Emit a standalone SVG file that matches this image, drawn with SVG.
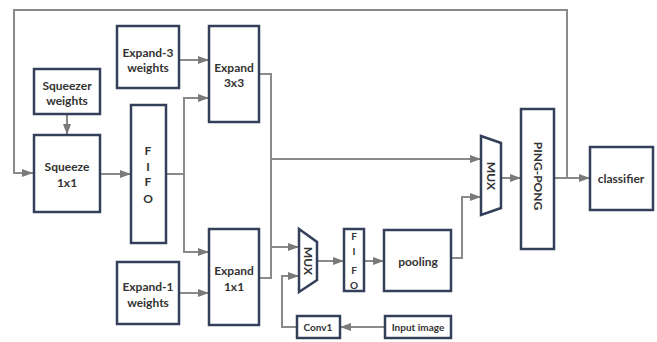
<svg xmlns="http://www.w3.org/2000/svg" width="657" height="342" viewBox="0 0 657 342">
<defs>
<marker id="ah" markerUnits="userSpaceOnUse" markerWidth="12" markerHeight="10" refX="11" refY="5" orient="auto">
<path d="M0,1 L11,5 L0,9 Z" fill="#7a7a7a"/>
</marker>
</defs>
<style>
.box{fill:#fff;stroke:#34405a;stroke-width:2.5}
.ln{fill:none;stroke:#8a8a8a;stroke-width:2}
.ar{marker-end:url(#ah)}
text{font-family:Lato,"Liberation Sans",sans-serif;font-weight:bold;font-size:12px;fill:#333;text-anchor:middle;dominant-baseline:central}
.sm{font-size:10px}
</style>
<rect width="657" height="342" fill="#fff"/>
<g id="connectors">
<path class="ln ar" d="M567,178 V10 H14 V173 H33"/>
<path class="ln ar" d="M67,114 V135"/>
<path class="ln ar" d="M100,174 H131"/>
<path class="ln ar" d="M166,174 H184 V98 H209"/>
<path class="ln ar" d="M184,174 V252 H209"/>
<path class="ln ar" d="M180,60 H209"/>
<path class="ln ar" d="M180,293 H209"/>
<path class="ln" d="M259,74 H271 V278 H259"/>
<path class="ln ar" d="M271,159 H481"/>
<path class="ln ar" d="M271,247 H299"/>
<path class="ln ar" d="M297,327 H282 V276 H299"/>
<path class="ln ar" d="M385,327 H340"/>
<path class="ln ar" d="M317,261 H344"/>
<path class="ln ar" d="M364,261 H384"/>
<path class="ln ar" d="M451,258 H462 V197 H481"/>
<path class="ln ar" d="M501,178 H521"/>
<path class="ln ar" d="M554,178 H590"/>
</g>
<g id="expand3-weights"><rect class="box" x="117" y="26" width="62" height="62"/><text x="148" y="52">Expand-3</text><text x="148" y="67">weights</text></g>
<g id="expand3x3"><rect class="box" x="209" y="26" width="50" height="96"/><text x="234" y="67">Expand</text><text x="234" y="82">3x3</text></g>
<g id="squeezer-weights"><rect class="box" x="34" y="69" width="66" height="45"/><text x="67" y="85">Squeezer</text><text x="67" y="100">weights</text></g>
<g id="squeeze"><rect class="box" x="34" y="135" width="66" height="77"/><text x="67" y="166">Squeeze</text><text x="67" y="182">1x1</text></g>
<g id="fifo1"><rect class="box" x="131" y="105" width="35" height="138"/><text x="148" y="150">F</text><text x="148" y="166">I</text><text x="148" y="181">F</text><text x="148" y="198">O</text></g>
<g id="expand1-weights"><rect class="box" x="117" y="262" width="62" height="62"/><text x="148" y="286">Expand-1</text><text x="148" y="302">weights</text></g>
<g id="expand1x1"><rect class="box" x="209" y="229" width="50" height="96"/><text x="234" y="270">Expand</text><text x="234" y="286">1x1</text></g>
<g id="mux1"><path class="box" d="M299,229 L317,242 L317,280 L299,292 Z"/><text transform="translate(308,261) rotate(90)">MUX</text></g>
<g id="fifo2"><rect class="box" x="344" y="229" width="20" height="62"/><text x="354" y="236" class="sm">F</text><text x="354" y="251" class="sm">I</text><text x="354" y="270" class="sm">F</text><text x="354" y="285" class="sm">O</text></g>
<g id="pooling"><rect class="box" x="384" y="230" width="67" height="61"/><text x="418" y="261">pooling</text></g>
<g id="conv1"><rect class="box" x="297" y="316" width="43" height="22"/><text x="318" y="327" class="sm">Conv1</text></g>
<g id="input-image"><rect class="box" x="385" y="316" width="66" height="22"/><text x="418" y="327" class="sm">Input image</text></g>
<g id="mux2"><path class="box" d="M481,136 L501,143 L501,208 L481,215 Z"/><text transform="translate(491,176) rotate(90)">MUX</text></g>
<g id="ping-pong"><rect class="box" x="521" y="109" width="33" height="140"/><text transform="translate(538,176) rotate(90)">PING-PONG</text></g>
<g id="classifier"><rect class="box" x="590" y="147" width="63" height="63"/><text x="621" y="178">classifier</text></g>
</svg>
